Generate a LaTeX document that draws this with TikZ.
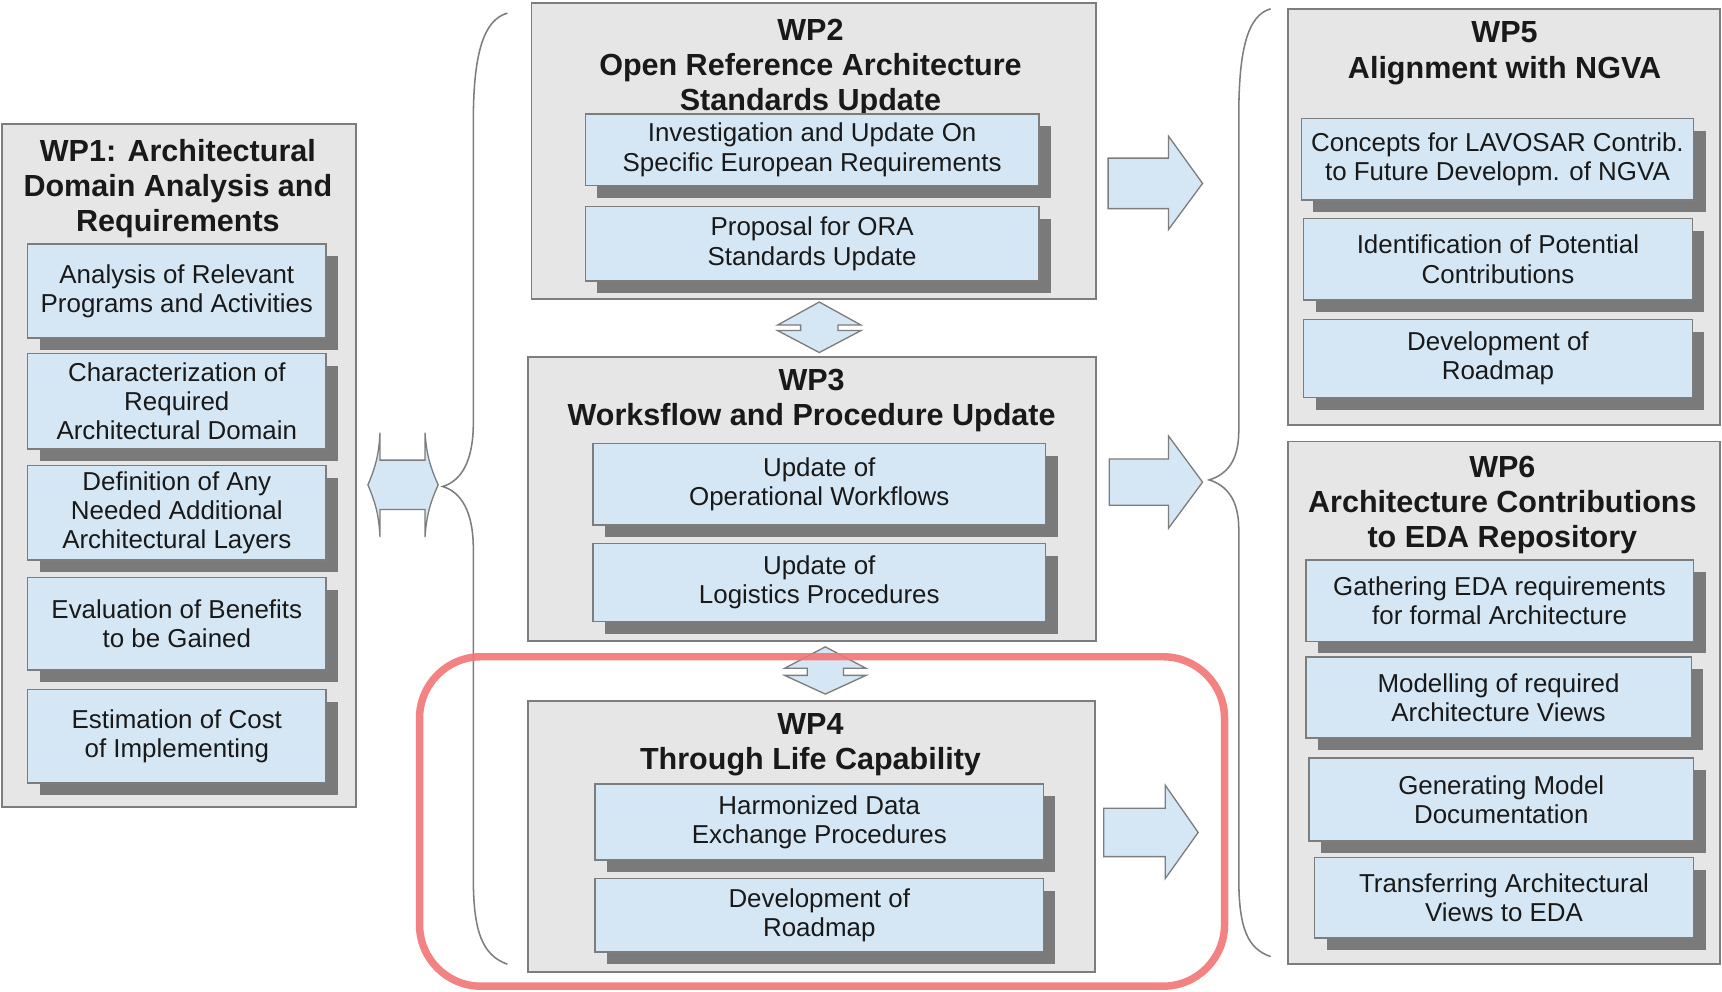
\documentclass[tikz,border=0pt]{standalone}
\usepackage{fontspec}
\setmainfont{Liberation Sans}
\usetikzlibrary{shadows}
\definecolor{boxgray}{RGB}{230,230,230}
\definecolor{boxblue}{RGB}{213,231,245}
\definecolor{bordergray}{RGB}{125,125,125}
\definecolor{shadowgray}{RGB}{122,122,122}
\definecolor{redline}{RGB}{242,118,118}
\definecolor{textdark}{RGB}{25,25,25}
\begin{document}
\begin{tikzpicture}[x=0.5pt,y=-0.5pt,
  outerbox/.style={draw=bordergray, fill=boxgray, line width=0.8pt, inner sep=0pt},
  wptitle/.style={font=\fontsize{13.9}{16}\selectfont\bfseries, align=center, inner sep=0pt, text=textdark},
  subbox/.style={draw=bordergray, fill=boxblue, line width=0.7pt, inner sep=0pt, align=center,
    font=\fontsize{11.8}{13.3}\selectfont, text=textdark,
    drop shadow={shadow xshift=5.5pt, shadow yshift=-5.5pt, fill=shadowgray, draw=none, opacity=1}},
  blockarrow/.style={draw=bordergray, fill=boxblue, line width=0.6pt, line join=miter},
  bracestyle/.style={draw=bordergray, line width=0.7pt},
  focus/.style={draw=redline, line width=3.4pt, rounded corners=28pt, opacity=0.9}
]
\fill[white] (0,0) rectangle (1568,903);
\useasboundingbox (0,0) rectangle (1568,903);

% ---------------- WP1
\node[outerbox, minimum width=161pt, minimum height=311pt] (wp1) at (163,424) {};
\node[wptitle] (wp1t) at (162,172) {WP1: Architectural\\Domain Analysis and\\Requirements};
\node[subbox, minimum width=136pt, minimum height=43pt] (wp1a) at (161,265) {Analysis of Relevant\\Programs and Activities};
\node[subbox, minimum width=136pt, minimum height=43.5pt] (wp1b) at (161,365.5) {Characterization of\\Required\\Architectural Domain};
\node[subbox, minimum width=136pt, minimum height=43pt] (wp1c) at (161,467) {Definition of Any\\Needed Additional\\Architectural Layers};
\node[subbox, minimum width=136pt, minimum height=42pt] (wp1d) at (161,568) {Evaluation of Benefits\\to be Gained};
\node[subbox, minimum width=136pt, minimum height=42.5pt] (wp1e) at (161,670.5) {Estimation of Cost\\of Implementing};

% ---------------- WP2
\node[outerbox, minimum width=257pt, minimum height=134.5pt] (wp2) at (741,137.5) {};
\node[wptitle] (wp2t) at (738,62) {WP2\\Open Reference Architecture\\Standards Update};
\node[subbox, minimum width=206.5pt, minimum height=32.5pt] (wp2a) at (739.5,136.5) {Investigation and Update On\\Specific European Requirements};
\node[subbox, minimum width=206.5pt, minimum height=34pt] (wp2b) at (739.5,222) {Proposal for ORA\\Standards Update};

% ---------------- WP3
\node[outerbox, minimum width=258.5pt, minimum height=129.5pt] (wp3) at (739.5,454.5) {};
\node[wptitle] (wp3t) at (739,365) {WP3\\Worksflow and Procedure Update};
\node[subbox, minimum width=206pt, minimum height=37pt] (wp3a) at (746,441) {Update of\\Operational Workflows};
\node[subbox, minimum width=206pt, minimum height=35.5pt] (wp3b) at (746,530.5) {Update of\\Logistics Procedures};

% ---------------- WP4
\node[outerbox, minimum width=258pt, minimum height=123.5pt] (wp4) at (739,761.5) {};
\node[wptitle] (wp4t) at (738,678) {WP4\\Through Life Capability};
\node[subbox, minimum width=204pt, minimum height=34.5pt] (wp4a) at (746,748.5) {Harmonized Data\\Exchange Procedures};
\node[subbox, minimum width=204pt, minimum height=33.5pt] (wp4b) at (746,833.5) {Development of\\Roadmap};

% ---------------- WP5
\node[outerbox, minimum width=196.5pt, minimum height=189.5pt] (wp5) at (1369.5,197.5) {};
\node[wptitle] (wp5t) at (1370,48.5) {WP5\\Alignment with NGVA};
\node[subbox, minimum width=178.5pt, minimum height=37pt] (wp5a) at (1363.5,145) {Concepts for LAVOSAR Contrib.\\to Future Developm. of NGVA};
\node[subbox, minimum width=177pt, minimum height=37pt] (wp5b) at (1364,236) {Identification of Potential\\Contributions};
\node[subbox, minimum width=177pt, minimum height=35.5pt] (wp5c) at (1364,326.5) {Development of\\Roadmap};

% ---------------- WP6
\node[outerbox, minimum width=196.5pt, minimum height=238pt] (wp6) at (1369.5,640) {};
\node[wptitle] (wp6t) at (1368,460) {WP6\\Architecture Contributions\\to EDA Repository};
\node[subbox, minimum width=176.5pt, minimum height=37pt] (wp6a) at (1365.5,547) {Gathering EDA requirements\\for formal Architecture};
\node[subbox, minimum width=175.5pt, minimum height=37pt] (wp6b) at (1364.5,635) {Modelling of required\\Architecture Views};
\node[subbox, minimum width=175pt, minimum height=38pt] (wp6c) at (1367,728) {Generating Model\\Documentation};
\node[subbox, minimum width=172.5pt, minimum height=36.5pt] (wp6d) at (1369.5,817.5) {Transferring Architectural\\Views to EDA};

% ---------------- braces
\draw[bracestyle] (462,12) .. controls (440,18) and (431,50) .. (431,110) -- (431,385)
  .. controls (431,420) and (420,438) .. (403,443)
  .. controls (420,448) and (431,466) .. (431,500) -- (431,800)
  .. controls (431,850) and (440,870) .. (462,878);
\draw[bracestyle] (1157,8) .. controls (1136,14) and (1128,45) .. (1128,105) -- (1128,392)
  .. controls (1128,420) and (1117,432) .. (1101,437)
  .. controls (1117,442) and (1128,455) .. (1128,482) -- (1128,800)
  .. controls (1128,845) and (1136,864) .. (1157,871);

% ---------------- double arrows
\draw[blockarrow] (335,441.5) to[bend right=10] (346,394) -- (346,419) -- (387,419) -- (387,394)
  to[bend right=10] (399,441.5) to[bend right=10] (387,489) -- (387,464) -- (346,464) -- (346,489)
  to[bend right=10] cycle;
\draw[blockarrow] (746,275) -- (784,296) -- (763,296) -- (763,301) -- (784,301) -- (746,321)
  -- (708,301) -- (729,301) -- (729,296) -- (708,296) -- cycle;
\draw[blockarrow] (751.5,589) -- (788.5,608.5) -- (768,608.5) -- (768,615) -- (788.5,615) -- (751.5,632)
  -- (714.5,615) -- (735,615) -- (735,608.5) -- (714.5,608.5) -- cycle;

% ---------------- right arrows
\draw[blockarrow] (1009,144) -- (1064,144) -- (1064,124) -- (1095,167) -- (1064,209) -- (1064,190) -- (1009,190) -- cycle;
\draw[blockarrow] (1010,418) -- (1064,418) -- (1064,397) -- (1095,439) -- (1064,481) -- (1064,460) -- (1010,460) -- cycle;
\draw[blockarrow] (1005,736) -- (1061,736) -- (1061,715) -- (1091,758) -- (1061,800) -- (1061,780) -- (1005,780) -- cycle;

% ---------------- highlight
\draw[focus] (382,598) rectangle (1115,898);
\end{tikzpicture}
\end{document}
